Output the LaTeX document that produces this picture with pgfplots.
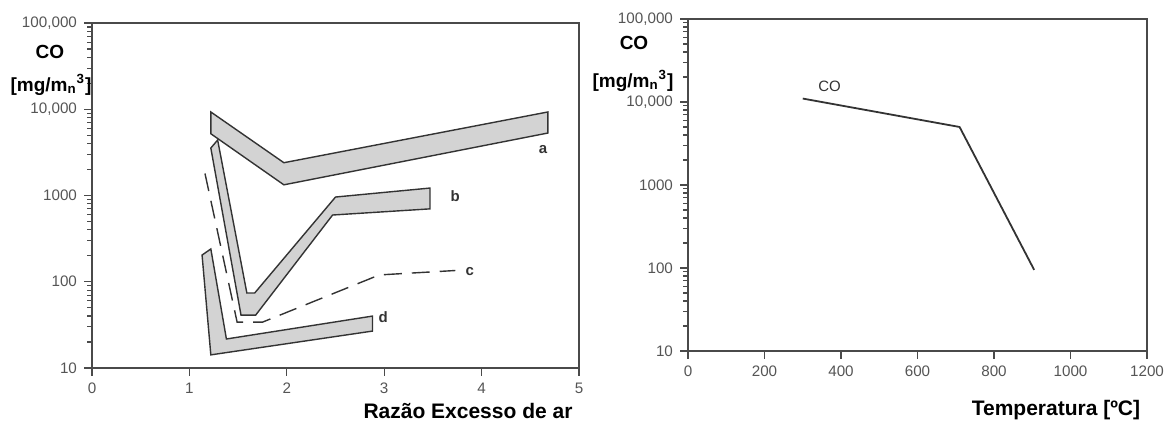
\documentclass[border=0pt]{standalone}
\usepackage{fontspec}
\setmainfont{Liberation Sans}
\usepackage{pgfplots}
\pgfplotsset{compat=1.18}

\definecolor{bandfill}{HTML}{D3D3D3}
\definecolor{edge}{HTML}{333333}
\definecolor{axisgray}{HTML}{4A4A4A}
\definecolor{labelgray}{HTML}{555555}

\pgfplotsset{
  /pgf/number format/assume math mode=true,
  /pgf/number format/1000 sep={},
}
\tikzset{band/.style={fill=bandfill, draw=edge, line width=0.7pt, line join=miter}}

\begin{document}
\begin{tikzpicture}
\path[use as bounding box] (0,0) rectangle (583pt,212.5pt);

% left: CO vs excess air ratio
\begin{axis}[at={(46pt,28.5pt)}, anchor=south west,
  scale only axis, width=243.5pt, height=172.5pt,
  ymode=log, ymin=10, ymax=100000,
  ytick={10,100,1000,10000,100000},
  yticklabels={10,100,1000,{10,000},{100,000}},
  minor ytick={20,30,40,50,60,70,80,90,200,300,400,500,600,700,800,900,
    2000,3000,4000,5000,6000,7000,8000,9000,20000,30000,40000,50000,60000,70000,80000,90000},
  xmin=0, xmax=5, xtick={0,1,2,3,4,5},
  tick align=outside, tick pos=left,
  major tick length=4pt, minor tick length=2.5pt,
  axis line style={axisgray, line width=0.85pt},
  every tick/.style={axisgray, line width=0.6pt},
  tick label style={font=\fontsize{7.6}{8}\selectfont, text=labelgray},
  clip=false]
% a
\addplot[band] coordinates {(1.22,9300) (1.97,2400) (4.68,9300) (4.68,5300) (1.97,1330) (1.22,5200)} -- cycle;
% b
\addplot[band] coordinates {(1.22,3550) (1.29,4400) (1.59,74) (1.67,74) (2.50,960) (3.47,1220) (3.47,700) (2.47,594) (1.68,41) (1.53,41)} -- cycle;
% d
\addplot[band] coordinates {(1.13,204) (1.22,240) (1.38,21.7) (2.88,40) (2.88,26.8) (1.22,14.2)} -- cycle;
% c
\addplot[edge, line width=0.7pt, dash pattern=on 9pt off 5pt] coordinates {(1.16,1800) (1.49,34) (1.75,34) (2.95,120) (3.73,135)};
\node[font=\bfseries\fontsize{7.5}{8}\selectfont, text=edge] at (axis cs:4.63,3370) {a};
\node[font=\bfseries\fontsize{7.5}{8}\selectfont, text=edge] at (axis cs:3.73,986) {b};
\node[font=\bfseries\fontsize{7.5}{8}\selectfont, text=edge] at (axis cs:3.88,130) {c};
\node[font=\bfseries\fontsize{7.5}{8}\selectfont, text=edge] at (axis cs:2.99,39) {d};
\end{axis}

% right: CO vs temperature
\begin{axis}[at={(344pt,37pt)}, anchor=south west,
  scale only axis, width=229.5pt, height=166pt,
  ymode=log, ymin=10, ymax=100000,
  ytick={10,100,1000,10000,100000},
  yticklabels={10,100,1000,{10,000},{100,000}},
  minor ytick={20,30,40,50,60,70,80,90,200,300,400,500,600,700,800,900,
    2000,3000,4000,5000,6000,7000,8000,9000,20000,30000,40000,50000,60000,70000,80000,90000},
  xmin=0, xmax=1200, xtick={0,200,400,600,800,1000,1200},
  tick align=outside, tick pos=left,
  major tick length=4pt, minor tick length=2.5pt,
  axis line style={axisgray, line width=0.85pt},
  every tick/.style={axisgray, line width=0.6pt},
  tick label style={font=\fontsize{7.6}{8}\selectfont, text=labelgray},
  clip=false]
\addplot[edge, line width=0.9pt] coordinates {(300,11000) (710,5000) (905,95)};
\node[font=\fontsize{7.5}{8}\selectfont, text=edge] at (axis cs:370,15500) {CO};
\end{axis}

% axis titles
\node[font=\bfseries\fontsize{9.5}{10}\selectfont] at (25pt,186.5pt) {CO};
\node[font=\bfseries\fontsize{9.5}{10}\selectfont] at (25.5pt,170pt) {[mg/m\textsubscript{n}\textsuperscript{3}]};
\node[font=\bfseries\fontsize{9.5}{10}\selectfont] at (317pt,191pt) {CO};
\node[font=\bfseries\fontsize{9.5}{10}\selectfont] at (316.5pt,172pt) {[mg/m\textsubscript{n}\textsuperscript{3}]};
\node[font=\bfseries\fontsize{10.5}{11}\selectfont] at (234pt,7pt) {Razão Excesso de ar};
\node[font=\bfseries\fontsize{10.5}{11}\selectfont] at (528pt,7.5pt) {Temperatura [ºC]};
\end{tikzpicture}
\end{document}
